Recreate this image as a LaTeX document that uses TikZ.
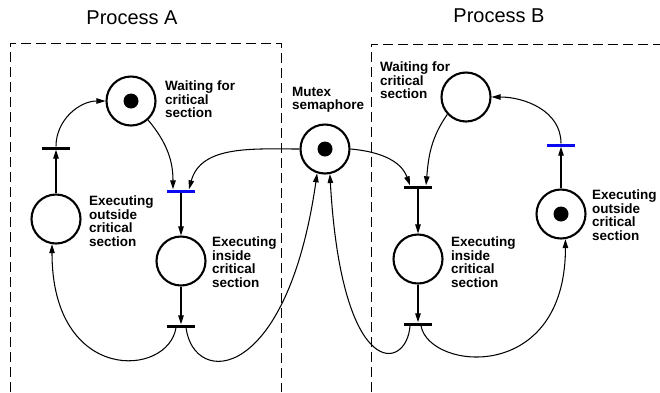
\documentclass[tikz,border=0pt]{standalone}
\usepackage{fontspec}
\setmainfont{Liberation Sans}
\usetikzlibrary{arrows.meta}
\definecolor{tblue}{RGB}{10,10,240}
\begin{document}
\begin{tikzpicture}[x=1pt,y=1pt,
  place/.style={circle,draw,line width=2.1pt,minimum size=49pt,inner sep=0pt},
  tok/.style={circle,fill=black,minimum size=15pt,inner sep=0pt},
  trans/.style={rectangle,fill=black,minimum width=28pt,minimum height=3pt,inner sep=0pt},
  btrans/.style={trans,fill=tblue},
  lbl/.style={font=\bfseries\fontsize{13.5}{13.4}\selectfont,align=left,anchor=north west,inner sep=0pt},
  ttl/.style={font=\fontsize{20}{22}\selectfont,inner sep=0pt},
  arc/.style={line width=1.05pt,-{Triangle[length=9pt,width=5.5pt]}},
  procbox/.style={dash pattern=on 10pt off 5pt,line width=0.9pt}]
\useasboundingbox (0,0) rectangle (660,-392);
% process boxes
\coordinate (boxA1) at (10,-392);
\coordinate (boxA2) at (10,-43);
\coordinate (boxA3) at (281,-43);
\coordinate (boxA4) at (281,-392);
\coordinate (boxB1) at (371,-392);
\coordinate (boxB2) at (371,-44);
\coordinate (boxB3) at (660,-44);
\draw[procbox] (boxA1) -- (boxA2) -- (boxA3) -- (boxA4);
\draw[procbox] (boxB1) -- (boxB2) -- (boxB3);
\node[ttl] (titleA) at (132,-18) {Process A};
\node[ttl] (titleB) at (499,-16) {Process B};
% places
\node[place] (wA) at (131,-101) {};
\node[tok] (wAt) at (wA) {};
\node[place] (eoA) at (56,-219) {};
\node[place] (eiA) at (181,-261) {};
\node[place] (mx) at (325,-149) {};
\node[tok] (mxt) at (mx) {};
\node[place] (wB) at (466,-97) {};
\node[place] (eiB) at (418,-259) {};
\node[place] (eoB) at (561,-214) {};
\node[tok] (eoBt) at (eoB) {};
% transitions
\node[trans] (tA1) at (56,-148) {};
\node[btrans] (tA2) at (181,-191) {};
\node[trans] (tA3) at (181,-326) {};
\node[trans] (tB1) at (418,-187) {};
\node[btrans] (tB2) at (561,-145) {};
\node[trans] (tB3) at (418,-324) {};
% labels
\node[lbl] (lwA) at (165,-81) {Waiting for\\critical\\section};
\node[lbl] (lmx) at (292,-87) {Mutex\\semaphore};
\node[lbl] (leoA) at (89,-196) {Executing\\outside\\critical\\section};
\node[lbl] (leiA) at (212,-237) {Executing\\inside\\critical\\section};
\node[lbl] (lwB) at (380,-62) {Waiting for\\critical\\section};
\node[lbl] (leiB) at (451,-237) {Executing\\inside\\critical\\section};
\node[lbl] (leoB) at (592,-190) {Executing\\outside\\critical\\section};
% arcs process A
\draw[arc] (eoA) -- (tA1);
\draw[arc] (tA1.north) to[out=90,in=180] (wA.west);
\draw[arc] (wA.-48) to[out=-50,in=90] ([xshift=-8pt]tA2.north);
\draw[arc] (mx.west) to[out=180,in=75] ([xshift=8pt]tA2.north);
\draw[arc] (tA2) -- (eiA);
\draw[arc] (eiA) -- (tA3);
\draw[arc] ([xshift=-5pt]tA3.south) .. controls +(-8,-50) and +(0,-140) .. (eoA.-99);
\draw[arc] ([xshift=5pt]tA3.south) .. controls +(8,-60) and +(-30,-210) .. (mx.-108);
% arcs process B
\draw[arc] (mx.east) to[out=-5,in=110] ([xshift=-8pt]tB1.north);
\draw[arc] (wB.-137) to[out=-125,in=85] ([xshift=8pt]tB1.north);
\draw[arc] (tB1) -- (eiB);
\draw[arc] (eiB) -- (tB3);
\draw[arc] ([xshift=-8pt]tB3.south) .. controls +(-3,-45) and +(12,-210) .. (mx.-79);
\draw[arc] ([xshift=3pt]tB3.south) .. controls +(8,-45) and +(0,-145) .. (eoB.-80);
\draw[arc] (eoB) -- (tB2);
\draw[arc] (tB2.north) to[out=90,in=0] (wB.east);
\end{tikzpicture}
\end{document}
